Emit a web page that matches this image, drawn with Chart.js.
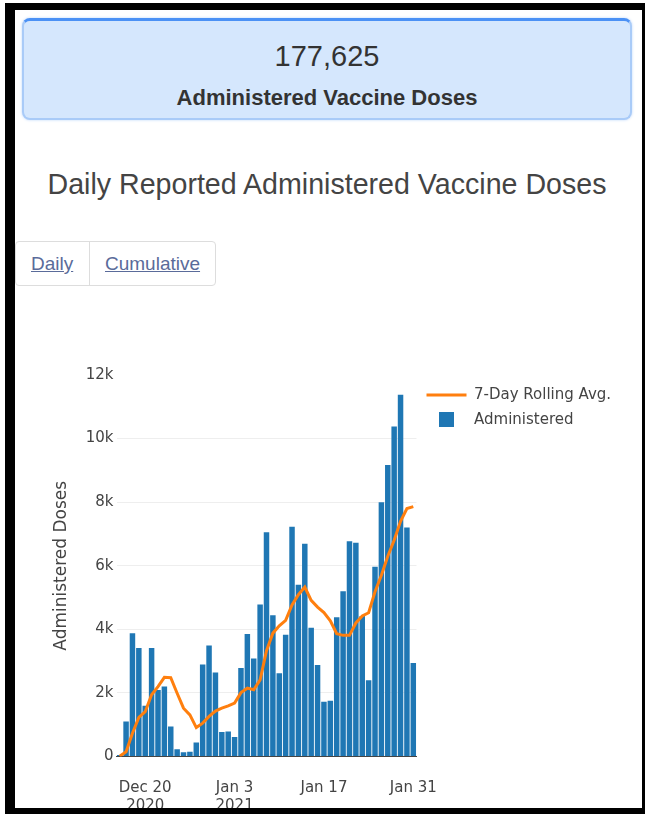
<!DOCTYPE html>
<html><head><meta charset="utf-8">
<script src="https://cdn.jsdelivr.net/npm/chart.js@4.4.1/dist/chart.umd.min.js"></script>
<style>
html,body{margin:0;padding:0;background:#fff;width:645px;height:814px;overflow:hidden;font-family:"Liberation Sans",Arial,sans-serif;}
#frame{position:absolute;left:5px;top:3px;right:0;bottom:0;border-style:solid;border-color:#000;border-width:7px 3px 6px 10px;pointer-events:none;z-index:10;}
#card{position:absolute;left:22px;top:18px;width:610px;height:102px;box-sizing:border-box;background:#d5e7fd;border:2px solid #a9cbf8;border-top:3px solid #4b91f5;border-radius:8px;box-shadow:0 0 3px #bcd6fa;}
.t{position:absolute;left:22px;width:610px;text-align:center;white-space:nowrap;}
#total{top:39px;line-height:34px;font-size:29px;color:#333;}
#cardlabel{top:85px;line-height:26px;font-size:22px;font-weight:bold;color:#333;}
#title{top:167px;line-height:34px;font-size:28.6px;color:#444;}
#btns{position:absolute;left:15px;top:241px;width:201px;height:45px;box-sizing:border-box;border:1px solid #ddd;border-radius:4px;}
#div{position:absolute;left:89px;top:241px;width:1px;height:45px;background:#ddd;}
.lnk{position:absolute;top:252px;line-height:24px;font-size:19px;color:#5a6b9a;text-decoration:underline;white-space:nowrap;}
#cv{position:absolute;left:0;top:340px;}
</style></head>
<body>
<div id="card"></div>
<div class="t" id="total">177,625</div>
<div class="t" id="cardlabel">Administered Vaccine Doses</div>
<div class="t" id="title">Daily Reported Administered Vaccine Doses</div>
<div id="btns"></div><div id="div"></div>
<span class="lnk" style="left:31px">Daily</span>
<span class="lnk" style="left:105px">Cumulative</span>
<canvas id="cv" width="645" height="477"></canvas>
<div id="frame"></div>
<script>
const dates = ['2020-12-16','2020-12-17','2020-12-18','2020-12-19','2020-12-20','2020-12-21','2020-12-22','2020-12-23','2020-12-24','2020-12-25','2020-12-26','2020-12-27','2020-12-28','2020-12-29','2020-12-30','2020-12-31',
'2021-01-01','2021-01-02','2021-01-03','2021-01-04','2021-01-05','2021-01-06','2021-01-07','2021-01-08','2021-01-09','2021-01-10','2021-01-11','2021-01-12','2021-01-13','2021-01-14','2021-01-15','2021-01-16',
'2021-01-17','2021-01-18','2021-01-19','2021-01-20','2021-01-21','2021-01-22','2021-01-23','2021-01-24','2021-01-25','2021-01-26','2021-01-27','2021-01-28','2021-01-29','2021-01-30','2021-01-31'];
const administered = [50,1100,3880,3410,1600,3410,2090,2200,940,230,130,150,440,2890,3490,2640,
770,790,610,2780,3850,3080,4780,7050,4440,2620,3830,7230,5400,6690,4050,2880,
1720,1750,4380,5200,6770,6720,4420,2400,5970,8000,9170,10380,11380,7200,2940];
const rollingAvg = [10,150,730,1230,1410,1940,2200,2490,2480,1990,1520,1310,910,1050,1260,1430,
1520,1590,1680,2010,2150,2100,2410,3330,3880,4110,4280,4770,5090,5330,4910,4700,
4530,4270,3860,3810,3810,4200,4420,4520,5180,5700,6300,6800,7400,7800,7860];
const yTickValues = [0,2000,4000,6000,8000,10000,12000];
const yTickLabels = ['0','2k','4k','6k','8k','10k','12k'];
const xTickDates = ['2020-12-20','2021-01-03','2021-01-17','2021-01-31'];
const xTickLabels = [['Dec 20','2020'],['Jan 3','2021'],['Jan 17'],['Jan 31']];
const seriesNames = ['7-Day Rolling Avg.','Administered'];

const BLUE = '#1f77b4', ORANGE = '#ff7f0e', TXT = '#444';
Chart.defaults.font.family = '"DejaVu Sans", Verdana, sans-serif';

const sq = document.createElement('canvas');
sq.width = 15; sq.height = 15;
const sc = sq.getContext('2d'); sc.fillStyle = BLUE; sc.fillRect(0,0,15,15);

const fixLegend = {
  id: 'fixLegend',
  beforeLayout(chart) {
    const lg = chart.legend;
    if (lg && !lg._fixed) {
      const f = lg.fit.bind(lg);
      lg.fit = function() { f(); this.width = 645 - 416.5; };
      lg._fixed = true;
    }
  }
};

new Chart(document.getElementById('cv'), {
  data: {
    labels: dates,
    datasets: [
      { type: 'line', label: seriesNames[0], data: rollingAvg, borderColor: ORANGE, borderWidth: 3,
        pointRadius: 0, tension: 0, fill: false, order: 0 },
      { type: 'bar', label: seriesNames[1], data: administered, backgroundColor: BLUE,
        barPercentage: 0.86, categoryPercentage: 1, order: 1 }
    ]
  },
  options: {
    responsive: false, animation: false, devicePixelRatio: 1,
    layout: { padding: { top: 35, left: 0, right: 0, bottom: 0 } },
    plugins: {
      tooltip: { enabled: false },
      legend: {
        position: 'right', align: 'start',
        title: { display: true, text: '', font: { size: 2 }, padding: 0 },
        labels: {
          usePointStyle: true, pointStyleWidth: 40, padding: 10,
          font: { size: 15 }, color: TXT,
          generateLabels: () => [
            { text: seriesNames[0], fillStyle: ORANGE, strokeStyle: ORANGE, lineWidth: 3, pointStyle: 'line', hidden: false, datasetIndex: 0, fontColor: TXT },
            { text: seriesNames[1], fillStyle: BLUE, strokeStyle: BLUE, lineWidth: 0, pointStyle: sq, hidden: false, datasetIndex: 1, fontColor: TXT }
          ]
        }
      }
    },
    scales: {
      x: {
        type: 'category', offset: true,
        grid: { display: false, drawTicks: false },
        border: { display: true, color: '#444', width: 1 },
        ticks: {
          autoSkip: false, maxRotation: 0, minRotation: 0, padding: 22.5,
          font: { size: 15 }, color: TXT,
          callback: (v, i) => { const k = xTickDates.indexOf(dates[i]); return k >= 0 ? xTickLabels[k] : null; }
        },
        afterFit: (s) => { s.height = 60.5; }
      },
      y: {
        min: 0, max: 12000,
        grid: { drawTicks: false, color: (c) => (c.tick && (c.tick.value === 0 || c.tick.value === 12000)) ? 'rgba(0,0,0,0)' : '#eee' },
        border: { display: false },
        ticks: {
          stepSize: 2000, padding: 3, font: { size: 15 }, color: TXT,
          callback: (v) => { const i = yTickValues.indexOf(v); return i >= 0 ? yTickLabels[i] : ''; }
        },
        title: { display: true, text: 'Administered Doses', color: TXT, font: { size: 17 }, padding: { top: 51.8, bottom: 0 } },
        afterFit: (s) => { s.width = 116.5; }
      }
    }
  },
  plugins: [fixLegend]
});
</script>
</body></html>
